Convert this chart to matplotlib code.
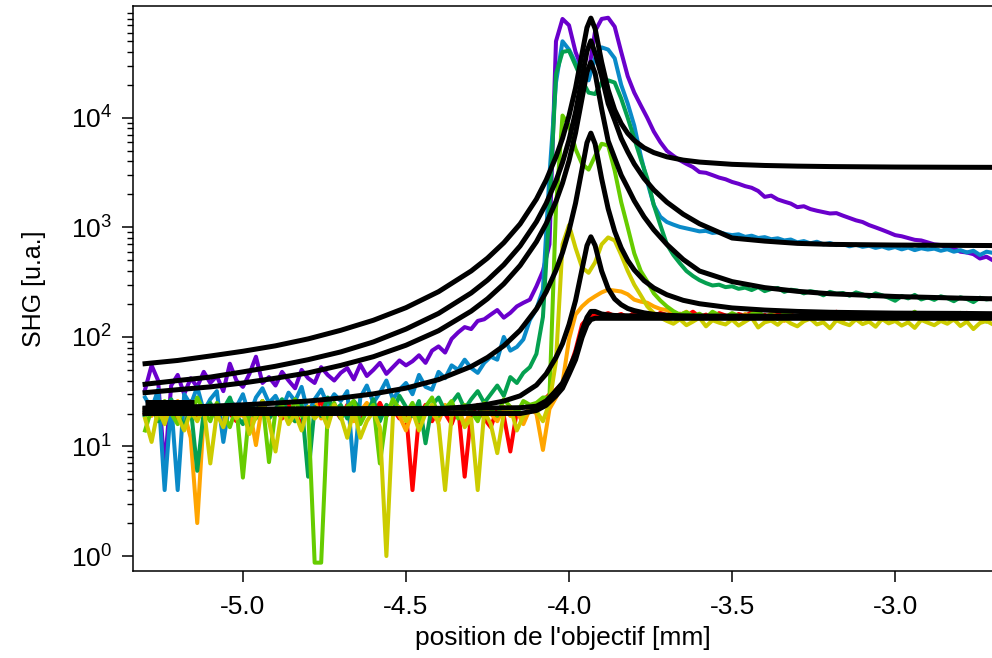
import numpy as np
import matplotlib
matplotlib.use('Agg')
import matplotlib.pyplot as plt
from matplotlib.ticker import FixedLocator, LogFormatterMathtext, NullFormatter

plt.rcParams['font.family'] = ['Liberation Sans', 'DejaVu Sans']
plt.rcParams['mathtext.fontset'] = 'custom'
plt.rcParams['mathtext.rm'] = 'Liberation Sans'
plt.rcParams['mathtext.it'] = 'Liberation Sans'
plt.rcParams['axes.unicode_minus'] = False

# positions de mesure (pas de 0.02 mm)
pos = np.round(np.linspace(-5.30, -2.70, 131), 2)

red = [20, 23, 18, 25, 21, 17, 22, 26, 19, 21,
       24, 18, 22, 20, 17, 23, 14, 21, 25, 19,
       22, 18, 24, 20, 16, 23, 21, 26, 19, 22,
       18, 24, 21, 17, 23, 20, 25, 19, 22, 18,
       21, 4, 19, 24, 17, 22, 20, 16, 23, 5.3,
       20, 24, 18, 15, 22, 19, 9, 21, 17, 23,
       22, 26, 30, 33, 38, 50, 76, 130, 152, 160,
       158, 165, 155, 162, 150, 168, 157, 160, 153, 166,
       158, 150, 163, 155, 170, 152, 160, 148, 165, 157,
       150, 162, 156, 168, 153, 159, 147, 164, 155, 160,
       152, 166, 158, 150, 161, 155, 170, 149, 158, 163,
       154, 160, 147, 165, 156, 152, 162, 158, 150, 164,
       155, 160, 148, 163, 157, 152, 166, 150, 158, 155, 160]

orange = [22, 19, 24, 18, 21, 26, 20, 12, 2.0, 19,
          23, 20, 17, 24, 21, 19, 22, 10.3, 25, 18,
          21, 24, 19, 17, 22, 20, 26, 18, 23, 21,
          19, 23, 17, 21, 25, 20, 18, 22, 24, 19,
          14, 21, 18, 23, 20, 17, 24, 19, 22, 16,
          21, 18, 24, 20, 17, 23, 19, 21, 16, 22,
          20, 9.3, 22, 28, 38, 95, 160, 190, 215, 235,
          255, 270, 265, 260, 245, 219, 210, 205, 190, 180,
          176, 165, 158, 170, 152, 160, 148, 163, 155, 150,
          158, 145, 162, 150, 155, 148, 165, 152, 140, 158,
          150, 160, 145, 155, 162, 148, 153, 141, 157, 150,
          146, 160, 152, 143, 155, 165, 150, 148, 158, 145,
          153, 160, 147, 150, 142, 156, 150, 162, 145, 152, 148]

olive = [18, 11, 22, 16, 25, 19, 14, 21, 17, 23,
         7, 20, 15, 24, 18, 21, 13, 19, 26, 17,
         9, 22, 16, 20, 14, 23, 18, 21, 15, 24,
         19, 12, 22, 12, 17, 21, 15, 1.0, 19, 23,
         17, 21, 14, 20, 24, 16, 4.0, 19, 22, 15,
         18, 4.0, 21, 16, 8.7, 20, 23, 14, 19, 22,
         21, 17, 25, 60, 700, 1050, 650, 430, 385, 480,
         700, 810, 760, 560, 400, 300, 240, 190, 165, 150,
         140, 132, 145, 128, 138, 150, 125, 142, 135, 130,
         144, 127, 138, 150, 122, 136, 141, 129, 146, 133,
         125, 139, 147, 130, 136, 120, 142, 134, 128, 145,
         131, 138, 124, 146, 133, 140, 127, 136, 121, 143,
         135, 128, 140, 132, 145, 126, 138, 118, 134, 140, 130]

lime = [14, 22, 18, 26, 20, 16, 24, 19, 28, 21,
        17, 25, 20, 15, 23, 5.2, 22, 18, 26, 7.2,
        21, 24, 17, 27, 19, 22, 0.87, 0.87, 20, 25,
        18, 23, 26, 16, 21, 24, 7, 19, 27, 22,
        20, 25, 17, 23, 28, 19, 22, 26, 18, 24,
        21, 17, 25, 22, 19, 27, 23, 20, 26, 24,
        25, 28, 28, 1500, 10500, 8500, 5200, 3800, 3370, 4500,
        5800, 5600, 3300, 1700, 1000, 580, 400, 320, 250, 215,
        190, 172, 160, 168, 155, 163, 150, 170, 158, 152,
        165, 156, 148, 162, 170, 153, 159, 146, 164, 157,
        150, 166, 155, 160, 148, 168, 154, 158, 145, 162,
        157, 150, 165, 153, 159, 147, 163, 155, 170, 151,
        158, 149, 164, 156, 152, 166, 145, 160, 155, 138, 158]

green = [19, 24, 17, 22, 27, 20, 15, 23, 6, 21,
         25, 18, 22, 28, 19, 16, 24, 21, 26, 18,
         22, 27, 20, 17, 25, 5.3, 23, 19, 28, 21,
         24, 18, 26, 22, 20, 27, 17, 24, 21, 29,
         23, 19, 26, 10.7, 24, 28, 21, 25, 30, 22,
         27, 32, 25, 30, 36, 29, 43, 38, 47, 53,
         70, 152, 1500, 25000, 40000, 41000, 30000, 22000, 17000, 16500,
         21000, 22000, 21000, 15000, 10000, 6500, 4200, 2800, 1600, 1050,
         700, 560, 470, 400, 360, 330, 310, 295, 300, 285,
         290, 275, 282, 268, 285, 262, 274, 280, 258, 270,
         265, 250, 262, 255, 240, 258, 248, 252, 238, 255,
         245, 232, 250, 240, 228, 214, 236, 225, 242, 220,
         230, 218, 235, 226, 212, 230, 222, 208, 228, 220, 225]

blue = [28, 22, 33, 4, 25, 4, 30, 24, 35, 21,
        27, 32, 11, 26, 23, 30, 19, 28, 34, 25,
        29, 22, 31, 26, 35, 20, 27, 33, 24, 30,
        26, 32, 6, 28, 36, 25, 31, 40, 27, 33,
        38, 30, 45, 35, 33, 48, 42, 55, 50, 62,
        52, 47, 58, 66, 62, 100, 75, 81, 95, 143,
        180, 270, 3000, 21000, 50000, 42000, 32000, 26000, 22000, 35000,
        44000, 42000, 35000, 20000, 13500, 8500, 4500, 2600, 1600, 1250,
        1120, 1060, 1010, 980, 950, 920, 930, 890, 905, 870,
        850, 865, 820, 840, 800, 815, 780, 795, 760, 775,
        730, 750, 715, 740, 700, 720, 690, 705, 672, 695,
        665, 680, 650, 670, 640, 662, 630, 655, 620, 645,
        628, 640, 612, 632, 600, 620, 590, 612, 560, 600, 585]

purple = [33, 55, 40, 6.1, 36, 45, 30, 42, 35, 48,
          38, 44, 32, 57, 40, 35, 46, 66, 38, 43,
          36, 48, 40, 34, 50, 42, 38, 53, 45, 40,
          47, 52, 41, 56, 44, 50, 58, 46, 53, 61,
          55, 60, 68, 58, 75, 82, 72, 96, 110, 123,
          118, 140, 145, 160, 176, 150, 166, 190, 205, 219,
          290, 400, 700, 50000, 80000, 70000, 40000, 28000, 26000, 62000,
          80000, 82000, 68000, 40000, 24000, 17000, 13000, 10000, 7500, 6000,
          5000, 4500, 4100, 3800, 3550, 3200, 3150, 3000, 2850, 2750,
          2600, 2500, 2380, 2300, 2150, 1900, 1950, 1800, 1720, 1650,
          1530, 1560, 1470, 1420, 1380, 1340, 1350, 1280, 1220, 1160,
          1120, 1050, 1000, 950, 900, 850, 830, 800, 770, 760,
          730, 700, 690, 650, 640, 600, 590, 570, 520, 540, 500]

# ajustements (courbes noires)
pos_fit = [-5.30, -5.20, -5.10, -5.00, -4.90, -4.80, -4.70, -4.60, -4.50, -4.40,
           -4.30, -4.25, -4.20, -4.15, -4.10, -4.07, -4.04, -4.02, -4.00, -3.98,
           -3.96, -3.945, -3.933, -3.92, -3.90, -3.88, -3.86, -3.84, -3.82, -3.80,
           -3.77, -3.74, -3.70, -3.65, -3.60, -3.50, -3.40, -3.30, -3.20, -3.00,
           -2.80, -2.70]

fit_purple = [57, 61, 67, 74, 83, 96, 115, 142, 185, 259,
              400, 524, 724, 1075, 1812, 2708, 4407, 6496, 10474, 18727,
              38611, 66632, 81401, 65198, 32360, 18008, 11846, 8882, 7221, 6230,
              5333, 4818, 4409, 4116, 3949, 3766, 3676, 3625, 3593, 3557,
              3539, 3533]
fit_blue = [37, 40, 43, 48, 54, 62, 73, 90, 118, 164,
            252, 330, 456, 677, 1125, 1657, 2663, 3915, 6277, 11263,
            23312, 40565, 50500, 39000, 24000, 13500, 9500, 6500, 4900, 3800,
            2800, 2200, 1700, 1320, 1080, 800, 750, 715, 700, 690,
            685, 683]
fit_green = [31, 33, 35, 38, 42, 47, 55, 66, 84, 114,
             172, 223, 305, 449, 739, 1082, 1729, 2537, 4058, 7283,
             15082, 26294, 32204, 25522, 12050, 6162, 4300, 3000, 2300, 1750,
             1250, 950, 700, 510, 400, 320, 282, 261, 248, 234,
             226, 223]
fit_lime = [22.4, 22.8, 23.3, 24, 24.9, 26, 27.7, 30.2, 34.1, 40.8,
            53.7, 65, 83, 115, 180, 258, 406, 589, 936, 1664,
            3423, 5933, 7256, 5776, 2787, 1481, 920, 650, 499, 409,
            327, 280, 243, 216, 201, 184, 176, 171, 168, 165,
            164, 163]
fit_olive = [20.2, 20.3, 20.3, 20.4, 20.5, 20.6, 20.7, 21, 21.3, 22,
             23.2, 24.3, 26, 29, 36.3, 46, 65, 87, 130, 215,
             416, 682, 821, 684, 400, 276, 222, 197, 182, 174,
             166, 161, 158, 155, 154, 152, 151.5, 151, 150.8, 150.5,
             150.3, 150.3]
fit_orange = [22, 22, 22, 22, 22, 22.1, 22.1, 22.2, 22.2, 22.3,
              22.3, 22.4, 22.5, 22.6, 23.3, 26, 32.3, 38, 51, 70,
              114, 151, 171, 171, 162, 159, 157, 156.4, 156, 155.7,
              155.5, 155.3, 155.2, 155.1, 155, 155, 155, 155, 155, 155,
              155, 155]
fit_red = [20, 20, 20, 20, 20, 20, 20, 20, 20, 20,
           20, 20, 20, 20, 21.3, 23.8, 29, 34, 45.6, 62,
           99, 129, 144, 148, 148, 148, 148, 148, 148, 148,
           148, 148, 148, 148, 148, 148, 148, 148, 148, 148,
           148, 148]

# segments d'ajustement superposés au début du balayage
pos_bloc = [-5.30, -5.15]
bloc_bas = [20.3, 20.3]
bloc_mil = [22.7, 22.7]
bloc_haut = [25.3, 25.3]

series = [(red, '#FF0000'), (orange, '#FFA500'), (purple, '#6A00CC'),
          (blue, '#0A8AC8'), (green, '#05A050'), (lime, '#66CC00'),
          (olive, '#CCCC00')]
fits = [fit_purple, fit_blue, fit_green, fit_lime, fit_olive, fit_orange, fit_red]

fig = plt.figure(figsize=(9.92, 6.58), dpi=100)
ax = fig.add_axes([133 / 992, 87 / 658, 859 / 992, 565 / 658])

for vals, col in series:
    ax.plot(pos, vals, color=col, lw=2.9)
for f in fits:
    ax.plot(pos_fit, f, color='black', lw=3.6)
for b in [bloc_bas, bloc_mil, bloc_haut]:
    ax.plot(pos_bloc, b, color='black', lw=3.6, solid_capstyle='butt')

ax.set_yscale('log')
ax.set_xlim(-5.337, -2.703)
ax.set_ylim(0.73, 1.05e5)

ax.set_xticks([-5.0, -4.5, -4.0, -3.5, -3.0])
ax.set_xticklabels(['-5.0', '-4.5', '-4.0', '-3.5', '-3.0'])
ax.yaxis.set_major_locator(FixedLocator([1, 10, 100, 1000, 10000]))
ax.yaxis.set_major_formatter(LogFormatterMathtext())
ax.yaxis.set_minor_locator(FixedLocator([m * 10.0 ** e for e in range(5) for m in range(2, 10)]))
ax.yaxis.set_minor_formatter(NullFormatter())

ax.tick_params(which='major', direction='out', length=8, width=1.1, labelsize=19)
ax.tick_params(axis='x', which='major', pad=9)
ax.tick_params(axis='y', which='major', pad=7)
ax.tick_params(which='minor', direction='out', length=4.5, width=1.0)
ax.spines['right'].set_visible(False)
for s in ['left', 'top', 'bottom']:
    ax.spines[s].set_linewidth(1.1)

ax.set_xlabel("position de l'objectif [mm]", fontsize=19, labelpad=5)
ax.set_ylabel('SHG [u.a.]', fontsize=18, labelpad=18)

fig.savefig('out.png', dpi=100)
